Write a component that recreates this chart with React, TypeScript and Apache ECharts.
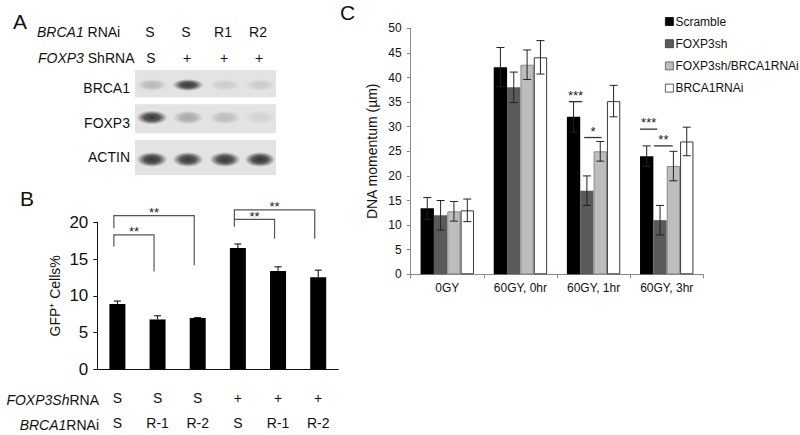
import React, { useEffect, useRef } from 'react';
import * as echarts from 'echarts';

const FONT = '"Liberation Sans", Arial, Helvetica, sans-serif';

// ---------- Panel A (western blot) ----------
const blotBrca1Lanes = ['S', 'S', 'R1', 'R2'];
const blotFoxp3Lanes = ['S', '+', '+', '+'];
const blotProteins = ['BRCA1', 'FOXP3', 'ACTIN'];
// relative band intensity per protein row and lane (0 = none, 1 = darkest)
const blotIntensity = [
  [0.22, 0.9, 0.12, 0.12],
  [0.9, 0.3, 0.2, 0.08],
  [0.92, 0.9, 0.9, 0.92],
];

// ---------- Panel B ----------
const bFoxp3 = ['S', 'S', 'S', '+', '+', '+'];
const bBrca1 = ['S', 'R-1', 'R-2', 'S', 'R-1', 'R-2'];
const bValues = [8.9, 6.8, 7.0, 16.5, 13.4, 12.55];
const bErrors = [0.4, 0.5, 0.05, 0.55, 0.55, 0.95];
const bTicks = [0, 5, 10, 15, 20];
// brackets: [fromCat, toCat, topValue, leftLegBottom, rightLegBottom, label]
const bBrackets = [
  [0, 1, 18.3, 16.7, 13.3, '**'],
  [0, 2, 20.9, 19.2, 14.15, '**'],
  [3, 4, 20.4, 19.4, 17.76, '**'],
  [3, 5, 21.7, 20.4, 17.76, '**'],
];

// ---------- Panel C ----------
const cCategories = ['0GY', '60GY, 0hr', '60GY, 1hr', '60GY, 3hr'];
const cSeriesNames = ['Scramble', 'FOXP3sh', 'FOXP3sh/BRCA1RNAi', 'BRCA1RNAi'];
const cScramble = [13.4, 42.1, 32.0, 24.0];
const cFoxp3sh = [12.0, 38.0, 17.0, 11.0];
const cFoxBrca = [12.8, 42.6, 25.0, 22.0];
const cBrca = [13.0, 44.1, 35.2, 27.0];
const cScrambleErr = [2.2, 4.0, 3.1, 2.1];
const cFoxp3shErr = [3.0, 3.1, 3.0, 3.0];
const cFoxBrcaErr = [2.0, 3.0, 2.0, 3.0];
const cBrcaErr = [2.3, 3.4, 3.2, 2.9];
// significance lines: [cat, fromBarPos, toBarPos, value, label]  (bar positions 0..4 within group)
const cSig = [
  [2, 0.15, 1.15, 35.1, '***'],
  [2, 1.3, 2.6, 27.8, '*'],
  [3, 0.0, 1.3, 29.5, '***'],
  [3, 1.05, 2.45, 26.1, '**'],
];

const C_GAP = 0.27;

export default function App() {
  const ref = useRef<HTMLDivElement>(null);

  useEffect(() => {
    const chart = echarts.init(ref.current as HTMLDivElement, null, { renderer: 'svg' });

    const cValues = [cScramble, cFoxp3sh, cFoxBrca, cBrca];
    const cErrors = [cScrambleErr, cFoxp3shErr, cFoxBrcaErr, cBrcaErr];
    const cColors = ['#000000', '#5a5a5a', '#bdbdbd', '#ffffff'];
    const cBorders = ['#000000', '#454545', '#8a8a8a', '#3a3a3a'];
    const legendBorders = ['#000000', '#333333', '#555555', '#333333'];

    // ---- blot graphics ----
    const laneX = [152, 188, 225, 260];
    const boxTop = [70, 104.3, 140];
    const boxH = [27.3, 29, 35];
    const bandY = [85, 117.5, 159.5];
    const bandRy = [6, 7, 7.5];
    const labelY = [87.7, 123.3, 156.7];
    const graphics: any[] = [];
    const txt = (x: number, y: number, text: string, size: number, align = 'center', extra: any = {}) => ({
      type: 'text',
      x,
      y,
      silent: true,
      style: {
        text,
        fill: '#111',
        fontSize: size,
        fontFamily: FONT,
        align,
        verticalAlign: 'middle',
        ...extra,
      },
    });
    const italicRich = (size: number) => ({
      i: { fontStyle: 'italic', fontSize: size, fontFamily: FONT, fill: '#111' },
      n: { fontSize: size, fontFamily: FONT, fill: '#111' },
    });

    graphics.push(txt(13, 21, 'A', 21, 'left'));
    graphics.push(txt(20, 198, 'B', 21, 'left'));
    graphics.push(txt(340, 12, 'C', 21, 'left'));

    graphics.push(txt(37, 31.7, '{i|BRCA1}{n| RNAi}', 14, 'left', { rich: italicRich(14) }));
    graphics.push(txt(38, 58.3, '{i|FOXP3}{n| ShRNA}', 14, 'left', { rich: italicRich(14) }));
    blotBrca1Lanes.forEach((l, i) => graphics.push(txt(laneX[i] - 2, 31.7, l, 14)));
    blotFoxp3Lanes.forEach((l, i) => graphics.push(txt(laneX[i] - 1, 58.3, l, 14)));

    blotProteins.forEach((p, r) => {
      graphics.push({
        type: 'rect',
        silent: true,
        shape: { x: 135, y: boxTop[r], width: 141, height: boxH[r] },
        style: { fill: '#e3e3e3' },
      });
      graphics.push(txt(130, labelY[r], p, 14, 'right'));
      blotIntensity[r].forEach((a, j) => {
        graphics.push({
          type: 'ellipse',
          silent: true,
          shape: { cx: laneX[j], cy: bandY[r], rx: 15.5, ry: bandRy[r] },
          style: {
            fill: {
              type: 'radial',
              x: 0.5,
              y: 0.5,
              r: 0.5,
              colorStops: [
                { offset: 0, color: `rgba(35,35,35,${a})` },
                { offset: 0.5, color: `rgba(45,45,45,${a * 0.85})` },
                { offset: 1, color: 'rgba(60,60,60,0)' },
              ],
            },
          },
        });
      });
    });

    // B row headers
    graphics.push(txt(99, 400, '{i|FOXP3Sh}{n|RNA}', 14, 'right', { rich: italicRich(14) }));
    graphics.push(txt(99, 425, '{i|BRCA1}{n|RNAi}', 14, 'right', { rich: italicRich(14) }));

    const option: any = {
      animation: false,
      textStyle: { fontFamily: FONT },
      graphic: graphics,
      legend: {
        data: cSeriesNames.map((n, i) => ({
          name: n,
          itemStyle: { color: cColors[i], borderColor: legendBorders[i], borderWidth: 0.8 },
        })),
        orient: 'vertical',
        left: 665,
        top: 15.5,
        itemWidth: 8,
        itemHeight: 8,
        itemGap: 10.2,
        padding: 0,
        icon: 'rect',
        selectedMode: false,
        textStyle: { fontSize: 12, color: '#111', fontFamily: FONT, padding: [0, 0, 0, -3] },
      },
      grid: [
        { left: 97.3, top: 222.3, width: 241, height: 149.4 },
        { left: 410.7, top: 28.3, width: 292.6, height: 246 },
      ],
      xAxis: [
        {
          gridIndex: 0,
          type: 'category',
          data: bFoxp3.map((f, i) => f + '/' + bBrca1[i]),
          axisLine: { lineStyle: { color: '#111', width: 1 } },
          axisTick: { show: false },
          axisLabel: {
            interval: 0,
            margin: 15.5,
            fontSize: 14,
            lineHeight: 25,
            color: '#111',
            fontFamily: FONT,
            formatter: (_v: string, i: number) => `${bFoxp3[i]}\n${bBrca1[i]}`,
          },
        },
        {
          gridIndex: 1,
          type: 'category',
          data: cCategories,
          axisLine: { lineStyle: { color: '#8a8a8a', width: 1 } },
          axisTick: { show: true, length: 4, lineStyle: { color: '#8a8a8a' } },
          axisLabel: { interval: 0, margin: 8, fontSize: 12, color: '#111', fontFamily: FONT },
        },
      ],
      yAxis: [
        {
          gridIndex: 0,
          type: 'value',
          min: bTicks[0],
          max: bTicks[bTicks.length - 1],
          interval: 5,
          name: 'GFP⁺ Cells%',
          nameLocation: 'middle',
          nameGap: 35,
          nameTextStyle: { fontSize: 14, color: '#111', fontFamily: FONT },
          splitLine: { show: false },
          axisLine: { show: true, lineStyle: { color: '#111', width: 1 } },
          axisTick: { show: true, length: 4, lineStyle: { color: '#111' } },
          axisLabel: { margin: 9, fontSize: 17, color: '#111', fontFamily: FONT },
        },
        {
          gridIndex: 1,
          type: 'value',
          min: 0,
          max: 50,
          interval: 5,
          name: 'DNA momentum (µm)',
          nameLocation: 'middle',
          nameGap: 32,
          nameTextStyle: { fontSize: 14, color: '#111', fontFamily: FONT },
          splitLine: { show: false },
          axisLine: { show: true, lineStyle: { color: '#8a8a8a', width: 1 } },
          axisTick: { show: true, length: 4, lineStyle: { color: '#8a8a8a' } },
          axisLabel: { margin: 9, fontSize: 12, color: '#111', fontFamily: FONT },
        },
      ],
      series: [
        {
          type: 'bar',
          name: 'gfp',
          xAxisIndex: 0,
          yAxisIndex: 0,
          barWidth: 16,
          data: bValues,
          itemStyle: { color: '#000' },
        },
        {
          type: 'custom',
          name: 'gfpErr',
          xAxisIndex: 0,
          yAxisIndex: 0,
          z: 5,
          data: bValues.map((v, i) => [i, v, bErrors[i]]),
          renderItem: (_p: any, api: any) => {
            const x = api.value(0);
            const v = api.value(1);
            const e = api.value(2);
            const top = api.coord([x, v + e]);
            const base = api.coord([x, v]);
            const st = { stroke: '#000', lineWidth: 1 };
            return {
              type: 'group',
              children: [
                { type: 'line', shape: { x1: base[0], y1: base[1], x2: top[0], y2: top[1] }, style: st },
                { type: 'line', shape: { x1: top[0] - 3.5, y1: top[1], x2: top[0] + 3.5, y2: top[1] }, style: st },
              ],
            };
          },
        },
        {
          type: 'custom',
          name: 'gfpSig',
          xAxisIndex: 0,
          yAxisIndex: 0,
          z: 5,
          clip: false,
          data: bBrackets.map((b) => [b[0], b[2], b[1], b[3], b[4]]),
          renderItem: (params: any, api: any) => {
            const from = api.value(0);
            const topV = api.value(1);
            const to = api.value(2);
            const lb = api.coord([from, api.value(3)]);
            const rb = api.coord([to, api.value(4)]);
            const lt = api.coord([from, topV]);
            const rt = api.coord([to, topV]);
            const off = -3.5;
            const label = bBrackets[params.dataIndex][5] as string;
            return {
              type: 'group',
              children: [
                {
                  type: 'polyline',
                  shape: {
                    points: [
                      [lb[0] + off, lb[1]],
                      [lt[0] + off, lt[1]],
                      [rt[0] + off, rt[1]],
                      [rb[0] + off, rb[1]],
                    ],
                  },
                  style: { stroke: '#555', lineWidth: 1.2, fill: 'none' },
                },
                {
                  type: 'text',
                  x: (lt[0] + rt[0]) / 2 + off,
                  y: lt[1] - 3,
                  style: { text: label, fontSize: 13, fontFamily: FONT, fill: '#222', align: 'center', verticalAlign: 'middle' },
                },
              ],
            };
          },
        },
        ...cSeriesNames.map((name, i) => ({
          type: 'bar',
          name,
          xAxisIndex: 1,
          yAxisIndex: 1,
          barGap: 0,
          barCategoryGap: `${C_GAP * 100}%`,
          data: cValues[i],
          itemStyle: {
            color: cColors[i],
            borderColor: cBorders[i],
            borderWidth: i >= 2 ? 1 : 0,
          },
        })),
        {
          type: 'custom',
          name: 'cErr',
          xAxisIndex: 1,
          yAxisIndex: 1,
          z: 5,
          data: cValues.flatMap((vals, s) => vals.map((v, j) => [j, v, cErrors[s][j], s])),
          renderItem: (_p: any, api: any) => {
            const j = api.value(0);
            const v = api.value(1);
            const e = api.value(2);
            const s = api.value(3);
            const band = api.size([1, 0])[0];
            const groupW = band * (1 - C_GAP);
            const bw = groupW / 4;
            const cx = api.coord([j, 0])[0] - groupW / 2 + (s + 0.5) * bw;
            const top = api.coord([j, v + e])[1];
            const bot = api.coord([j, v - e])[1];
            const st = { stroke: '#222', lineWidth: 1 };
            return {
              type: 'group',
              children: [
                { type: 'line', shape: { x1: cx, y1: top, x2: cx, y2: bot }, style: st },
                { type: 'line', shape: { x1: cx - 4, y1: top, x2: cx + 4, y2: top }, style: st },
                { type: 'line', shape: { x1: cx - 4, y1: bot, x2: cx + 4, y2: bot }, style: st },
              ],
            };
          },
        },
        {
          type: 'custom',
          name: 'cSig',
          xAxisIndex: 1,
          yAxisIndex: 1,
          z: 6,
          clip: false,
          data: cSig.map((s) => [s[0], s[3], s[1], s[2]]),
          renderItem: (params: any, api: any) => {
            const j = api.value(0);
            const v = api.value(1);
            const a = api.value(2);
            const b = api.value(3);
            const band = api.size([1, 0])[0];
            const groupW = band * (1 - C_GAP);
            const bw = groupW / 4;
            const left = api.coord([j, v]);
            const x0 = left[0] - groupW / 2;
            const y = left[1];
            const label = cSig[params.dataIndex][4] as string;
            return {
              type: 'group',
              children: [
                { type: 'line', shape: { x1: x0 + a * bw, y1: y, x2: x0 + b * bw, y2: y }, style: { stroke: '#333', lineWidth: 1.3 } },
                {
                  type: 'text',
                  x: x0 + ((a + b) / 2) * bw,
                  y: y - 6.5,
                  style: { text: label, fontSize: 13, fontFamily: FONT, fill: '#222', align: 'center', verticalAlign: 'middle' },
                },
              ],
            };
          },
        },
      ],
    };

    chart.setOption(option);
    return () => chart.dispose();
  }, []);

  return (
    <div
      ref={ref}
      style={{ position: 'fixed', left: 0, top: 0, width: 800, height: 435, background: '#fff' }}
    />
  );
}
